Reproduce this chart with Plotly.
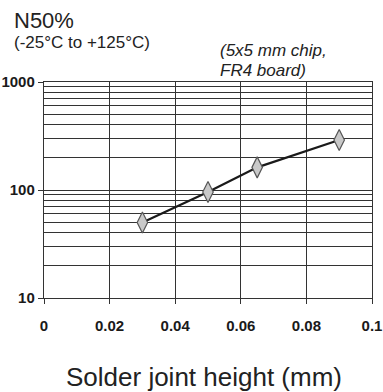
import plotly.graph_objects as go

# Fatigue life N50% vs. solder joint height
heights_mm = [0.03, 0.05, 0.065, 0.09]
n50_cycles = [50, 96, 162, 290]

x_ticks = [0, 0.02, 0.04, 0.06, 0.08, 0.1]
x_tick_text = ["<b>0</b>", "<b>0.02</b>", "<b>0.04</b>", "<b>0.06</b>", "<b>0.08</b>", "<b>0.1</b>"]
y_ticks = [10, 100, 1000]
y_tick_text = ["<b>10</b>", "<b>100</b>", "<b>1000</b>"]

grid_col = "#333333"
tick_font = dict(family="Liberation Sans Narrow, Arial Narrow, Liberation Sans", size=15, color="#1a1a1a")
text_font = "Liberation Sans, Arial"

W, H, L, R, T, B = 383, 392, 44, 11, 82, 94
pw, ph = W - L - R, H - T - B

fig = go.Figure()
fig.add_trace(go.Scatter(
    x=heights_mm, y=n50_cycles, mode="lines+markers",
    line=dict(color="#1a1a1a", width=2.2),
    marker=dict(symbol="diamond-tall", size=15, color="#c9c9c9",
                line=dict(color="#555", width=1.2)),
    showlegend=False,
))

fig.update_layout(
    width=W, height=H,
    margin=dict(l=L, r=R, t=T, b=B),
    paper_bgcolor="white", plot_bgcolor="white",
    xaxis=dict(
        range=[0, 0.1], tickvals=x_ticks, ticktext=x_tick_text, automargin=False,
        showgrid=True, gridcolor=grid_col, gridwidth=1.4,
        showline=True, linecolor=grid_col, linewidth=1.4, mirror=True,
        ticks="outside", ticklen=5, tickcolor=grid_col, ticklabelstandoff=9,
        tickfont=tick_font, zeroline=False,
    ),
    yaxis=dict(
        type="log", range=[1, 3], tickvals=y_ticks, ticktext=y_tick_text, automargin=False,
        showgrid=True, gridcolor=grid_col, gridwidth=1.4,
        minor=dict(tickvals=[v * d for d in (10, 100) for v in range(2, 10)],
                   showgrid=True, gridcolor=grid_col, gridwidth=1.2, ticks=""),
        showline=True, linecolor=grid_col, linewidth=1.4, mirror=True,
        ticks="outside", ticklen=5, tickcolor=grid_col,
        tickfont=tick_font, zeroline=False,
    ),
)

# header and axis-title texts, positioned in page pixels
labels = [
    ("N50%", 12, 21, 22, "left", False),
    ("(-25°C to +125°C)", 12, 42, 17, "left", False),
    ("(5x5 mm chip,", 218, 51, 17, "left", True),
    ("FR4 board)", 218, 70, 17, "left", True),
    ("Solder joint height (mm)", 204, 377, 26, "center", False),
]
for text, px, py, size, anchor, italic in labels:
    fig.add_annotation(
        text=f"<i>{text}</i>" if italic else text, showarrow=False,
        xref="paper", yref="paper",
        x=(px - L) / pw, y=1 + (T - py) / ph, xanchor=anchor, yanchor="middle",
        font=dict(family=text_font, size=size, color="#222"),
    )

fig.write_html("out.html")
